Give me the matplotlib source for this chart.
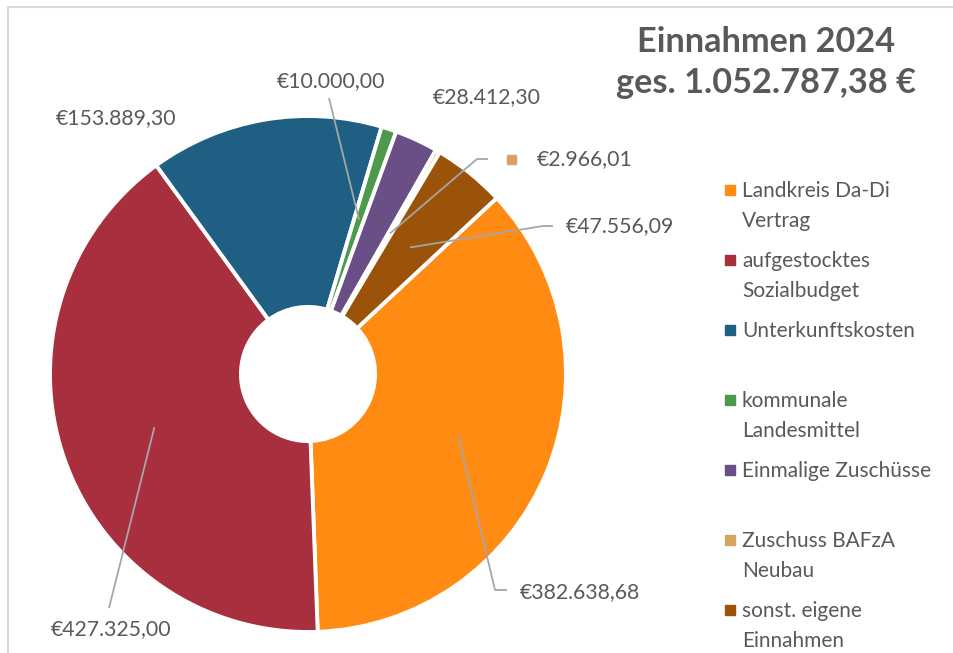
import matplotlib
matplotlib.use('Agg')
import matplotlib.pyplot as plt
from matplotlib.patches import Rectangle
import numpy as np

# Einnahmen 2024, values in EUR
categories = ['Landkreis Da-Di\nVertrag', 'aufgestocktes\nSozialbudget', 'Unterkunftskosten',
              'kommunale\nLandesmittel', 'Einmalige Zuschüsse', 'Zuschuss BAFzA\nNeubau',
              'sonst. eigene\nEinnahmen']
values = [382638.68, 427325.00, 153889.30, 10000.00, 28412.30, 2966.01, 47556.09]
colors = ['#FF8B13', '#A72F3E', '#1F5F84', '#4E9A4C', '#6A4F86', '#D4A463', '#9A5309']
title = 'Einnahmen 2024'
subtitle = 'ges. 1.052.787,38 €'

plt.rcParams['font.family'] = ['Lato', 'DejaVu Sans']
TXT = '#595959'
LINE = '#A6A6A6'

W, H = 954, 653
CX, CY, R = 308, 374, 258   # pie centre and radius in pixels


def px(x, y):
    # pixel position (from top left) -> data coords of the pie axes
    return (x - CX) / R, (CY - y) / R


def euro(v):
    s = '{:,.2f}'.format(v).replace(',', '#').replace('.', ',').replace('#', '.')
    return '€' + s


fig = plt.figure(figsize=(W / 100, H / 100), dpi=100)
ax = fig.add_axes([0, 0, 1, 1])
wedges, _ = ax.pie(values, colors=colors, startangle=43, counterclock=False, radius=1.0,
                   wedgeprops=dict(width=0.74, edgecolor='white', linewidth=2.8))
ax.set_xlim(-CX / R, (W - CX) / R)
ax.set_ylim((CY - H) / R, CY / R)
ax.set_aspect('auto')
ax.axis('off')

# data labels: text position, alignment, leader line points (pixels)
label_pos = [(520, 592, 'left'), (111, 629, 'center'), (116, 118, 'center'),
             (331, 81, 'center'), (487, 97, 'center'), (537, 159, 'left'),
             (566, 226, 'left')]
leaders = [[(495, 590), (507, 590)], [(109, 608)], None, [(329, 98)], None,
           [(477, 159), (488, 159)], [(543, 226), (553, 226)]]

for w, v, (lx, ly, ha), pts in zip(wedges, values, label_pos, leaders):
    tx, ty = px(lx, ly)
    ax.text(tx, ty, euro(v), ha=ha, va='center', fontsize=15.3, color=TXT)
    if pts:
        mid = np.deg2rad((w.theta1 + w.theta2) / 2)
        xs = [0.63 * np.cos(mid)] + [px(*p)[0] for p in pts]
        ys = [0.63 * np.sin(mid)] + [px(*p)[1] for p in pts]
        ax.plot(xs, ys, color=LINE, lw=1.3, solid_capstyle='butt')

# small key square next to the tiny slice's label
sx, sy = px(507, 164)
ax.add_patch(Rectangle((sx, sy), 9 / R, 9 / R, color=colors[5]))

# legend
for i, (name, c) in enumerate(zip(categories, colors)):
    y0 = 190 + 70 * i
    qx, qy = px(725, y0 + 5)
    ax.add_patch(Rectangle((qx, qy), 10 / R, 10 / R, color=c, clip_on=False))
    for j, line in enumerate(name.split('\n')):
        lx, ly = px(742, y0 + 30 * j + 7)
        ax.text(lx, ly, line, ha='left', va='baseline', fontsize=15, color=TXT)

# title
tx, ty = px(766, 42)
ax.text(tx, ty, title, ha='center', va='center', fontsize=24.7, fontweight='bold', color=TXT)
tx, ty = px(766, 83)
ax.text(tx, ty, subtitle, ha='center', va='center', fontsize=24.7, fontweight='bold', color=TXT)

# chart frame
fx, fy = px(8, H + 10)
ax.add_patch(Rectangle((fx, fy), (W + 10) / R, (H + 3) / R, fill=False,
                       edgecolor='#D9D9D9', lw=1.5, clip_on=False))

fig.savefig('out.png', dpi=100, facecolor='white')
